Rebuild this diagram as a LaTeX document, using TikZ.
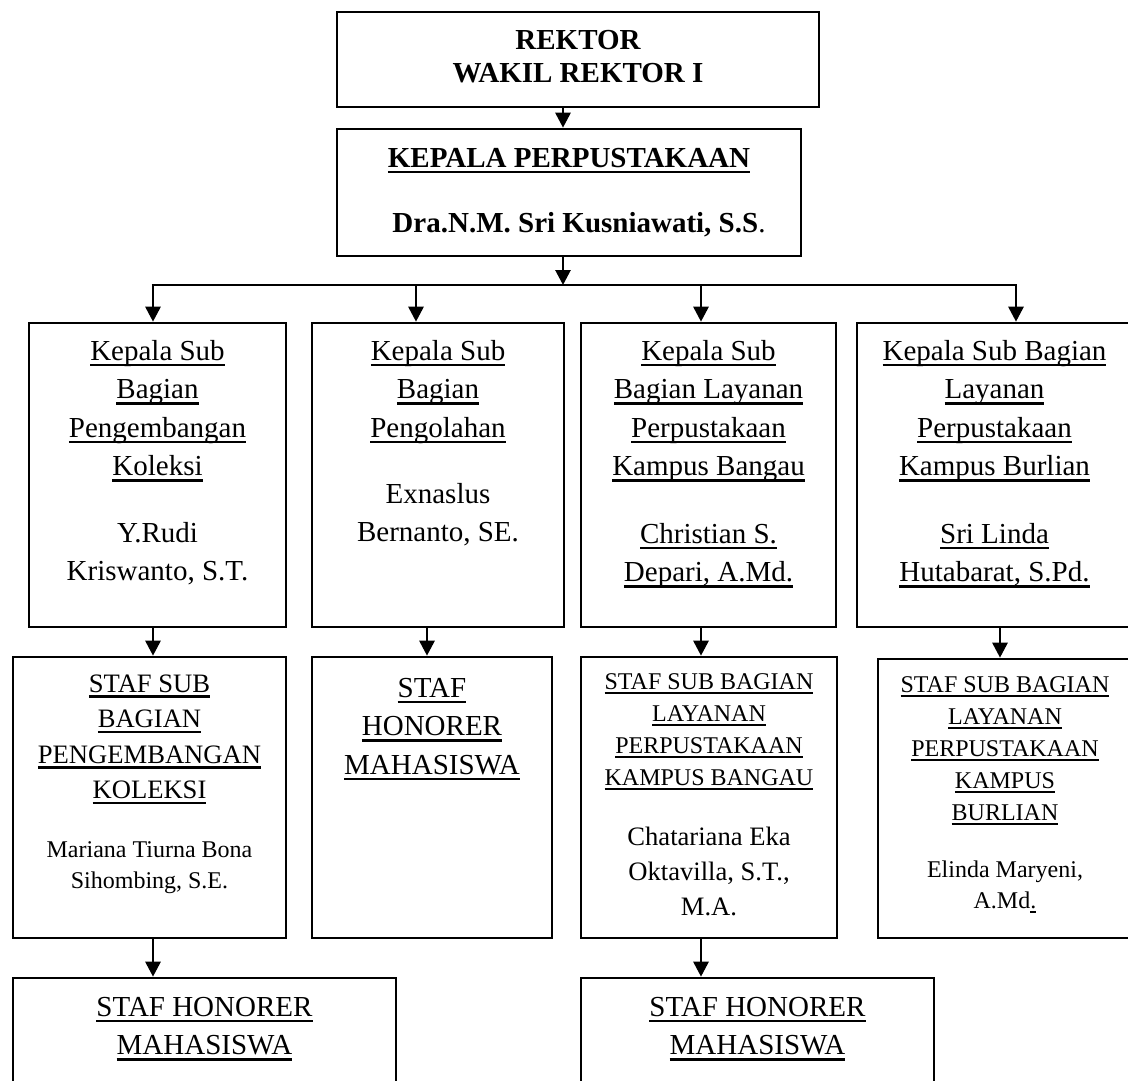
\documentclass[tikz,border=0pt]{standalone}
\usepackage{fontspec}
\setmainfont{Liberation Serif}
\usetikzlibrary{arrows.meta}
% underline at a fixed depth, as a word processor draws it
\newcommand{\ulin}[1]{\setbox0\hbox{#1}\rlap{\rule[-0.21em]{\wd0}{0.08em}}\box0}

\begin{document}
\begin{tikzpicture}[x=1pt, y=-1pt,
    box/.style={draw, line width=2.6pt, inner sep=0pt},
    txt/.style={align=center, inner sep=0pt, anchor=base},
    big/.style={font=\fontsize{29}{38.5}\selectfont},
    mid/.style={font=\fontsize{26.6}{35.5}\selectfont},
    small/.style={font=\fontsize{24}{32}\selectfont},
    link/.style={line width=2.8pt},
    arr/.style={line width=2.8pt, -{Triangle[length=15pt, width=15pt]}}]

    \useasboundingbox (0,0) rectangle (1128,1081);
    \clip (0,0) rectangle (1128,1081);

    % Top boxes (text nodes sit on the baseline of their last line)
    \node[box, minimum width=482, minimum height=95] (rektor) at (578,59.5) {};
    \node[txt, font=\fontsize{29}{33}\selectfont\bfseries] (rektor-title) at (578,83)
        {REKTOR\\WAKIL REKTOR I};
    \node[box, minimum width=464, minimum height=127] (kapus) at (569,192.5) {};
    \node[txt, font=\fontsize{29}{33}\selectfont\bfseries] (kapus-title) at (569,167)
        {\ulin{KEPALA PERPUSTAKAAN}};
    \node[txt, font=\fontsize{29}{33}\selectfont] (kapus-name) at (579,232)
        {\textbf{Dra.N.M. Sri Kusniawati, S.S}.};

    % Kepala sub bagian
    \node[box, minimum width=257, minimum height=304] (kasub1) at (157.5,475) {};
    \node[box, minimum width=252, minimum height=304] (kasub2) at (438,475) {};
    \node[box, minimum width=255, minimum height=304] (kasub3) at (708.5,475) {};
    \node[box, minimum width=275, minimum height=304] (kasub4) at (994.5,475) {};

    \node[txt, big] (kasub1-title) at (157.5,475.5)
        {\ulin{Kepala Sub}\\\ulin{Bagian}\\\ulin{Pengembangan}\\\ulin{Koleksi}};
    \node[txt, big] (kasub1-name) at (157.5,580.5) {Y.Rudi\\Kriswanto, S.T.};
    \node[txt, big] (kasub2-title) at (438,437)
        {\ulin{Kepala Sub}\\\ulin{Bagian}\\\ulin{Pengolahan}};
    \node[txt, big] (kasub2-name) at (438,541.5) {Exnaslus\\Bernanto, SE.};
    \node[txt, big] (kasub3-title) at (708.5,475.5)
        {\ulin{Kepala Sub}\\\ulin{Bagian Layanan}\\\ulin{Perpustakaan}\\\ulin{Kampus Bangau}};
    \node[txt, big] (kasub3-name) at (708.5,581.5) {\ulin{Christian S.}\\\ulin{Depari, A.Md.}};
    \node[txt, big] (kasub4-title) at (994.5,475.5)
        {\ulin{Kepala Sub Bagian}\\\ulin{Layanan}\\\ulin{Perpustakaan}\\\ulin{Kampus Burlian}};
    \node[txt, big] (kasub4-name) at (994.5,581.5) {\ulin{Sri Linda}\\\ulin{Hutabarat, S.Pd.}};

    % Staf sub bagian
    \node[box, minimum width=273, minimum height=281] (staf1) at (149.5,797.5) {};
    \node[box, minimum width=240, minimum height=281] (staf2) at (432,797.5) {};
    \node[box, minimum width=256, minimum height=281] (staf3) at (709,797.5) {};
    \node[box, minimum width=254, minimum height=279] (staf4) at (1005,798.5) {};

    \node[txt, mid] (staf1-title) at (149.5,798.5)
        {\ulin{STAF SUB}\\\ulin{BAGIAN}\\\ulin{PENGEMBANGAN}\\\ulin{KOLEKSI}};
    \node[txt, font=\fontsize{24}{31}\selectfont] (staf1-name) at (149.5,888)
        {Mariana Tiurna Bona\\Sihombing, S.E.};
    \node[txt, big] (staf2-title) at (432,774)
        {\ulin{STAF}\\\ulin{HONORER}\\\ulin{MAHASISWA}};
    \node[txt, small] (staf3-title) at (709,785)
        {\ulin{STAF SUB BAGIAN}\\\ulin{LAYANAN}\\\ulin{PERPUSTAKAAN}\\\ulin{KAMPUS BANGAU}};
    \node[txt, font=\fontsize{26.6}{35}\selectfont] (staf3-name) at (709,915)
        {Chatariana Eka\\Oktavilla, S.T.,\\M.A.};
    \node[txt, small] (staf4-title) at (1005,820)
        {\ulin{STAF SUB BAGIAN}\\\ulin{LAYANAN}\\\ulin{PERPUSTAKAAN}\\\ulin{KAMPUS}\\\ulin{BURLIAN}};
    \node[txt, font=\fontsize{24}{31}\selectfont] (staf4-name) at (1005,908)
        {Elinda Maryeni,\\A.Md\ulin{.}};

    % Staf honorer
    \node[box, minimum width=383, minimum height=130] (hon1) at (204.5,1043) {};
    \node[box, minimum width=353, minimum height=130] (hon2) at (757.5,1043) {};
    \node[txt, big] (hon1-title) at (204.5,1054.5) {\ulin{STAF HONORER}\\\ulin{MAHASISWA}};
    \node[txt, big] (hon2-title) at (757.5,1054.5) {\ulin{STAF HONORER}\\\ulin{MAHASISWA}};

    % Connectors
    \coordinate (bus) at (563,285);
    \draw[arr] (rektor.south -| bus) -- (kapus.north -| bus);
    \draw[arr] (kapus.south -| bus) -- (bus);
    \foreach \i/\x in {1/153, 2/416, 3/701, 4/1016}
        \coordinate (d\i) at (\x,285);
    \draw[link] ([xshift=-1.4]d1) -- ([xshift=1.4]d4);
    \foreach \i in {1,...,4}
        \draw[arr] (d\i) -- (d\i |- kasub\i.north);
    \foreach \i/\x in {1/153, 2/427, 3/701, 4/1000} {
        \coordinate (v\i) at (\x,640);
        \draw[arr] (kasub\i.south -| v\i) -- (staf\i.north -| v\i);
    }
    \draw[arr] (staf1.south -| v1) -- (hon1.north -| v1);
    \draw[arr] (staf3.south -| v3) -- (hon2.north -| v3);
\end{tikzpicture}
\end{document}
